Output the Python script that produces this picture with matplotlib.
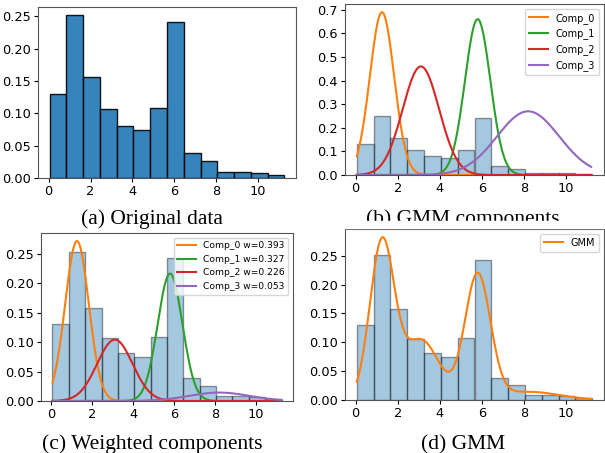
import numpy as np
import matplotlib
matplotlib.use("Agg")
import matplotlib.pyplot as plt
from matplotlib.patches import Rectangle

# histogram (density)
bin_edges = [0.05, 0.85, 1.65, 2.45, 3.25, 4.05, 4.85, 5.65, 6.45, 7.25, 8.05, 8.85, 9.65, 10.45, 11.25]
densities = [0.130, 0.252, 0.157, 0.106, 0.081, 0.074, 0.108, 0.242, 0.039, 0.026, 0.009, 0.009, 0.007, 0.004]

# fitted GMM parameters
comp_names = ["Comp_0", "Comp_1", "Comp_2", "Comp_3"]
comp_means = [1.25, 5.80, 3.10, 8.20]
comp_sigmas = [0.578, 0.604, 0.867, 1.478]
comp_weights = [0.393, 0.327, 0.226, 0.053]
comp_colors = ["C1", "C2", "C3", "C4"]

x_ticks = [0, 2, 4, 6, 8, 10]
y_ticks_small = [0.00, 0.05, 0.10, 0.15, 0.20, 0.25]
y_ticks_big = [0.0, 0.1, 0.2, 0.3, 0.4, 0.5, 0.6, 0.7]

W, H = 605, 453
fig = plt.figure(figsize=(W / 100, H / 100), dpi=100)


def px_axes(left, top, right, bottom):
    return fig.add_axes([left / W, 1 - bottom / H, (right - left) / W, (bottom - top) / H])


def pdf(x, mu, s):
    return np.exp(-0.5 * ((x - mu) / s) ** 2) / (s * np.sqrt(2 * np.pi))


def hist(ax, alpha, yticks, fmt):
    widths = np.diff(bin_edges)
    ax.bar(bin_edges[:-1], densities, width=widths, align="edge",
           color="C0", alpha=alpha, edgecolor="black", linewidth=1)
    ax.set_xticks(x_ticks)
    ax.set_yticks(yticks)
    ax.set_yticklabels([fmt.format(v) for v in yticks])
    ax.tick_params(labelsize=9.3, length=3, pad=2)
    for sp in ax.spines.values():
        sp.set_color("#555555")


xs = np.linspace(bin_edges[0], bin_edges[-1] - 0.05, 400)

ax_a = px_axes(38, 7, 296, 178)
hist(ax_a, 0.9, y_ticks_small, "{:.2f}")

ax_b = px_axes(345, 4, 604, 175)
hist(ax_b, 0.4, y_ticks_big, "{:.1f}")
for name, m, s, c in zip(comp_names, comp_means, comp_sigmas, comp_colors):
    ax_b.plot(xs, pdf(xs, m, s), color=c, label=name)
ax_b.legend(loc="upper right", fontsize=7)

ax_c = px_axes(41, 233, 293, 401)
hist(ax_c, 0.4, y_ticks_small, "{:.2f}")
for name, m, s, w, c in zip(comp_names, comp_means, comp_sigmas, comp_weights, comp_colors):
    ax_c.plot(xs, w * pdf(xs, m, s), color=c, label=f"{name} w={w:.3f}")
ax_c.legend(loc="upper right", fontsize=6.6)

ax_d = px_axes(345, 229, 604, 400)
hist(ax_d, 0.4, y_ticks_small, "{:.2f}")
total = sum(w * pdf(xs, m, s) for m, s, w in zip(comp_means, comp_sigmas, comp_weights))
ax_d.plot(xs, total, color="C1", label="GMM")
ax_d.legend(loc="upper right", fontsize=7)

cap = dict(family="Liberation Serif", fontsize=15.5, ha="center", va="baseline")
fig.text(152 / W, 1 - 224 / H, "(a) Original data", **cap)
fig.text(463 / W, 1 - 224 / H, "(b) GMM components", **cap)
fig.text(152 / W, 1 - 449 / H, "(c) Weighted components", **cap)
fig.text(463 / W, 1 - 449 / H, "(d) GMM", **cap)
# the (b) caption is cut off at the bottom in the original
fig.patches.append(Rectangle((300 / W, 1 - 228 / H), 305 / W, 7 / H,
                             transform=fig.transFigure, color="white", zorder=10))

fig.savefig("out.png", dpi=100)
